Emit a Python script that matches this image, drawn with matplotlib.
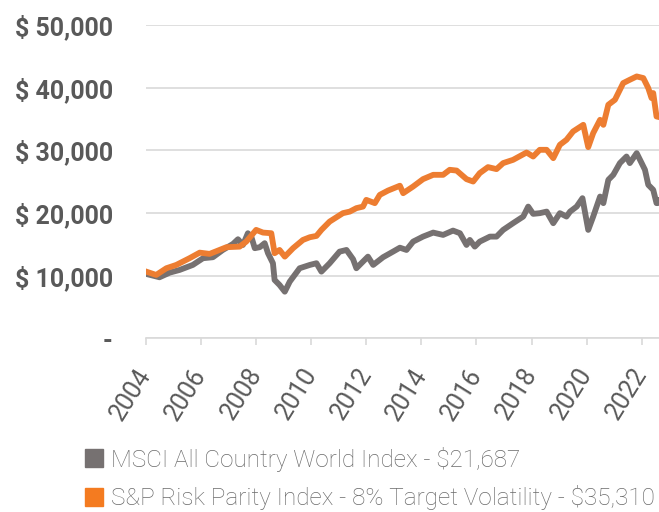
import matplotlib
import matplotlib.pyplot as plt
from matplotlib.lines import Line2D
from matplotlib.ticker import FuncFormatter

matplotlib.use('Agg')

# values (decimal year, growth of $10,000)
msci_years = [2004.01, 2004.49, 2004.86, 2005.22, 2005.70, 2006.07, 2006.43, 2006.79,
              2007.16, 2007.34, 2007.52, 2007.70, 2007.83, 2007.95, 2008.13, 2008.31,
              2008.43, 2008.61, 2008.67, 2008.85, 2009.04, 2009.22, 2009.58, 2009.95,
              2010.19, 2010.37, 2010.67, 2011.03, 2011.28, 2011.52, 2011.64, 2011.82,
              2012.06, 2012.25, 2012.61, 2012.97, 2013.22, 2013.46, 2013.70, 2014.06,
              2014.43, 2014.79, 2015.15, 2015.40, 2015.64, 2015.76, 2015.94, 2016.12,
              2016.49, 2016.73, 2016.97, 2017.33, 2017.70, 2017.88, 2018.06, 2018.30,
              2018.55, 2018.79, 2019.03, 2019.27, 2019.40, 2019.64, 2019.85, 2020.06,
              2020.24, 2020.49, 2020.61, 2020.79, 2020.97, 2021.21, 2021.45, 2021.57,
              2021.82, 2022.00, 2022.12, 2022.24, 2022.42, 2022.54, 2022.60, 2022.63]
msci_vals = [10270, 9740, 10480, 10910, 11710, 12780, 12940, 14100,
             15060, 15810, 14900, 16770, 16130, 14380, 14540, 15180,
             13580, 11980, 9310, 8510, 7440, 9040, 11180, 11710,
             11980, 10640, 11980, 13830, 14100, 12620, 11180, 11980,
             13030, 11710, 12940, 13830, 14460, 14100, 15430, 16230,
             16870, 16500, 17190, 16770, 14900, 15700, 14630, 15430,
             16230, 16230, 17300, 18370, 19430, 21020, 19860, 19970,
             20220, 18370, 19970, 19430, 20220, 21020, 22360, 17300,
             19430, 22620, 21570, 25290, 26090, 27960, 29010, 27960,
             29550, 27960, 26890, 24490, 23690, 21570, 22090, 21687]

rp_years = [2004.01, 2004.37, 2004.74, 2005.10, 2005.58, 2005.95, 2006.31, 2006.67,
            2006.92, 2007.40, 2007.64, 2008.00, 2008.25, 2008.55, 2008.67, 2008.85,
            2009.04, 2009.34, 2009.70, 2009.95, 2010.19, 2010.37, 2010.67, 2011.15,
            2011.40, 2011.64, 2011.88, 2012.00, 2012.31, 2012.49, 2012.79, 2013.22,
            2013.34, 2013.70, 2014.06, 2014.43, 2014.79, 2015.03, 2015.28, 2015.64,
            2015.88, 2016.12, 2016.42, 2016.73, 2016.97, 2017.33, 2017.82, 2018.06,
            2018.30, 2018.55, 2018.79, 2019.03, 2019.27, 2019.51, 2019.88, 2020.06,
            2020.24, 2020.49, 2020.61, 2020.79, 2021.03, 2021.33, 2021.57, 2021.82,
            2022.06, 2022.24, 2022.36, 2022.42, 2022.54, 2022.63]
rp_vals = [10640, 10110, 11180, 11710, 12780, 13670, 13470, 14100,
           14540, 14630, 15430, 17300, 16870, 16770, 13580, 14100,
           13030, 14380, 15700, 16130, 16340, 17300, 18630, 19970,
           20220, 20770, 21020, 22090, 21570, 22890, 23580, 24350,
           23160, 24220, 25400, 26090, 26090, 26890, 26770, 25400,
           25020, 26360, 27320, 27000, 27960, 28480, 29650, 29010,
           30080, 30080, 28750, 30880, 31680, 33010, 34070, 30510,
           32750, 34870, 34070, 37270, 38070, 40730, 41260, 41790,
           41530, 39940, 38340, 39140, 35400, 35310]

year_ticks = [2004, 2006, 2008, 2010, 2012, 2014, 2016, 2018, 2020, 2022]
value_ticks = [0, 10000, 20000, 30000, 40000, 50000]

labels = ['MSCI All Country World Index - $21,687',
          'S&P Risk Parity Index - 8% Target Volatility - $35,310']
colors = ['#767171', '#ED7D31']
marker_colors = ['#767171', '#F47B20']
text_color = '#595959'
grid_color = '#D9D9D9'

plt.rcParams['font.family'] = ['Roboto', 'DejaVu Sans']

fig = plt.figure(figsize=(6.59, 5.12), dpi=100)
ax = fig.add_axes([146 / 659, 1 - 338.3 / 512, 1 - 146 / 659, (338.3 - 25) / 512])

ax.plot(msci_years, msci_vals, color=colors[0], lw=4.2, solid_joinstyle='round', zorder=3)
ax.plot(rp_years, rp_vals, color=colors[1], lw=4.2, solid_joinstyle='round', zorder=4)

ax.set_xlim(2004.0, 2022.63)
ax.set_ylim(0, 50000)
ax.set_yticks(value_ticks)
ax.yaxis.set_major_formatter(FuncFormatter(lambda v, p: '-' if v == 0 else f'$ {v:,.0f}'))
ax.grid(axis='y', color=grid_color, lw=1.2)
ax.set_axisbelow(True)
for s in ['top', 'right', 'left']:
    ax.spines[s].set_visible(False)
ax.spines['bottom'].set_color(grid_color)
ax.spines['bottom'].set_linewidth(1.2)

ax.tick_params(axis='y', length=0, pad=24, labelsize=18, labelcolor=text_color)
for t in ax.get_yticklabels():
    t.set_fontweight('semibold')

ax.set_xticks(year_ticks)
ax.set_xticklabels([str(y) for y in year_ticks])
ax.tick_params(axis='x', length=5, width=1.2, color=grid_color, pad=18,
               labelsize=18, labelcolor=text_color)
for t in ax.get_xticklabels():
    t.set_rotation(58)
    t.set_ha('right')
    t.set_va('center')
    t.set_rotation_mode('anchor')

handles = [Line2D([], [], ls='none', marker='s', ms=13.5, color=c) for c in marker_colors]
fig.legend(handles, labels, loc='upper left', bbox_to_anchor=(72 / 659, 1 - 437 / 512),
           frameon=False, labelcolor='#6a6a6a', handletextpad=0.2,
           handlelength=1.0, labelspacing=0.55, borderaxespad=0,
           prop={'weight': 'light', 'size': 17.5})

fig.savefig('out.png', dpi=100)
